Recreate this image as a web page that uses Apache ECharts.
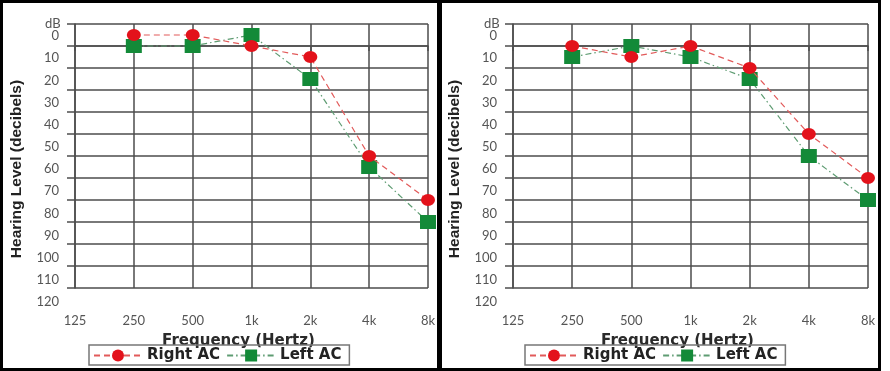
<!DOCTYPE html>
<html>
<head>
<meta charset="utf-8">
<script src="https://cdn.jsdelivr.net/npm/echarts@6/dist/echarts.min.js"></script>
<style>
  html, body { margin: 0; padding: 0; background: #fff; }
  #chart { width: 890px; height: 371px; }
</style>
</head>
<body>
<div id="chart"></div>
<script>
// frequencies on the x axis
var freqs = ['125', '250', '500', '1k', '2k', '4k', '8k'];
// hearing level tick labels (dB)
var dbLabels = [0, 10, 20, 30, 40, 50, 60, 70, 80, 90, 100, 110, 120];

// left audiogram
var rightAcA = [null, -5, -5, 0, 5, 50, 70];
var leftAcA  = [null, 0, 0, -5, 15, 55, 80];
// right audiogram
var rightAcB = [null, 0, 5, 0, 10, 40, 60];
var leftAcB  = [null, 5, 0, 5, 15, 50, 70];

var RED = '#e3121b';
var GREEN = '#138a38';
var GRID = '#4d4d4d';
var LABEL = '#555';

var chart = echarts.init(document.getElementById('chart'));

// plot grid + separate grid used only to place the (offset) dB labels
function panel(left, right) {
    return [
        { left: left, right: right, top: 24, bottom: 83 },
        { left: left, right: right, top: 36, bottom: 69 }
    ];
}

function mainX(gi) {
    return {
        type: 'category', gridIndex: gi, data: freqs, boundaryGap: false,
        axisLine: { lineStyle: { color: GRID, width: 1.5 } },
        axisTick: { show: true, length: 5, lineStyle: { color: GRID, width: 1.5 } },
        axisLabel: { color: LABEL, fontFamily: 'Lato', fontSize: 13, margin: 26 },
        splitLine: { show: true, lineStyle: { color: GRID, width: 1.5 } },
        name: 'Frequency (Hertz)', nameLocation: 'middle', nameGap: 46,
        nameTextStyle: { fontFamily: 'DejaVu Sans', fontWeight: 'bold', fontSize: 15, color: '#2a2a2a', padding: [0, 26, 0, 0] }
    };
}
function mainY(gi) {
    return {
        type: 'value', gridIndex: gi, inverse: true, min: -10, max: 110, interval: 10,
        axisLine: { show: true, lineStyle: { color: GRID, width: 1.5 } },
        axisTick: { show: true, length: 8, lineStyle: { color: GRID, width: 1.5 } },
        axisLabel: { show: false },
        splitLine: { show: true, lineStyle: { color: GRID, width: 1.5 } }
    };
}
function labelX(gi) {
    return { type: 'value', gridIndex: gi, show: false };
}
function labelY(gi) {
    return {
        type: 'value', gridIndex: gi, inverse: true, min: 0, max: 120, interval: 10,
        axisLine: { show: false }, axisTick: { show: false }, splitLine: { show: false },
        axisLabel: { color: LABEL, fontFamily: 'Lato', fontSize: 13, margin: 16,
            formatter: function (v) { return dbLabels.indexOf(v) >= 0 ? String(v) : ''; } },
        name: 'Hearing Level (decibels)', nameLocation: 'middle', nameGap: 50,
        nameTextStyle: { fontFamily: 'Liberation Sans', fontWeight: 'bold', fontSize: 15.5, color: '#222' }
    };
}

function rightSeries(gi, data) {
    return {
        name: 'Right AC', type: 'line', xAxisIndex: gi, yAxisIndex: gi, data: data,
        symbol: 'circle', symbolSize: [14, 12], z: 3,
        itemStyle: { color: RED },
        lineStyle: { color: '#e25a5a', width: 1.2, type: [6, 4] }
    };
}
function leftSeries(gi, data) {
    return {
        name: 'Left AC', type: 'line', xAxisIndex: gi, yAxisIndex: gi, data: data,
        symbol: 'rect', symbolSize: [16, 14], z: 2,
        itemStyle: { color: GREEN },
        lineStyle: { color: '#5e9c72', width: 1.2, type: [6, 3, 1.5, 3] }
    };
}

function legend(left) {
    return {
        left: left, top: 345, orient: 'horizontal',
        data: ['Right AC', 'Left AC'],
        itemWidth: 48, itemHeight: 15, itemGap: 6,
        borderColor: '#777', borderWidth: 1.5, padding: [3, 8, 2, 4],
        textStyle: { fontFamily: 'DejaVu Sans', fontWeight: 'bold', fontSize: 15, color: '#222' }
    };
}

var grids = panel(75, 462).concat(panel(513, 22));

chart.setOption({
    backgroundColor: '#fff',
    animation: false,
    grid: grids,
    xAxis: [mainX(0), labelX(1), mainX(2), labelX(3)],
    yAxis: [mainY(0), labelY(1), mainY(2), labelY(3)],
    legend: [legend(89), legend(525)],
    series: [
        rightSeries(0, rightAcA), leftSeries(0, leftAcA),
        rightSeries(2, rightAcB), leftSeries(2, leftAcB)
    ],
    graphic: [
        { type: 'text', left: 45, top: 17, z: 10,
          style: { text: 'dB', fill: LABEL, font: '13px Lato' } },
        { type: 'text', left: 484, top: 17, z: 10,
          style: { text: 'dB', fill: LABEL, font: '13px Lato' } },
        { type: 'rect', z: 100, shape: { x: 1.5, y: 1.5, width: 878, height: 368 },
          style: { fill: null, stroke: '#000', lineWidth: 3 } },
        { type: 'rect', z: 100, shape: { x: 437, y: 0, width: 5, height: 371 },
          style: { fill: '#000' } }
    ]
});
</script>
</body>
</html>
